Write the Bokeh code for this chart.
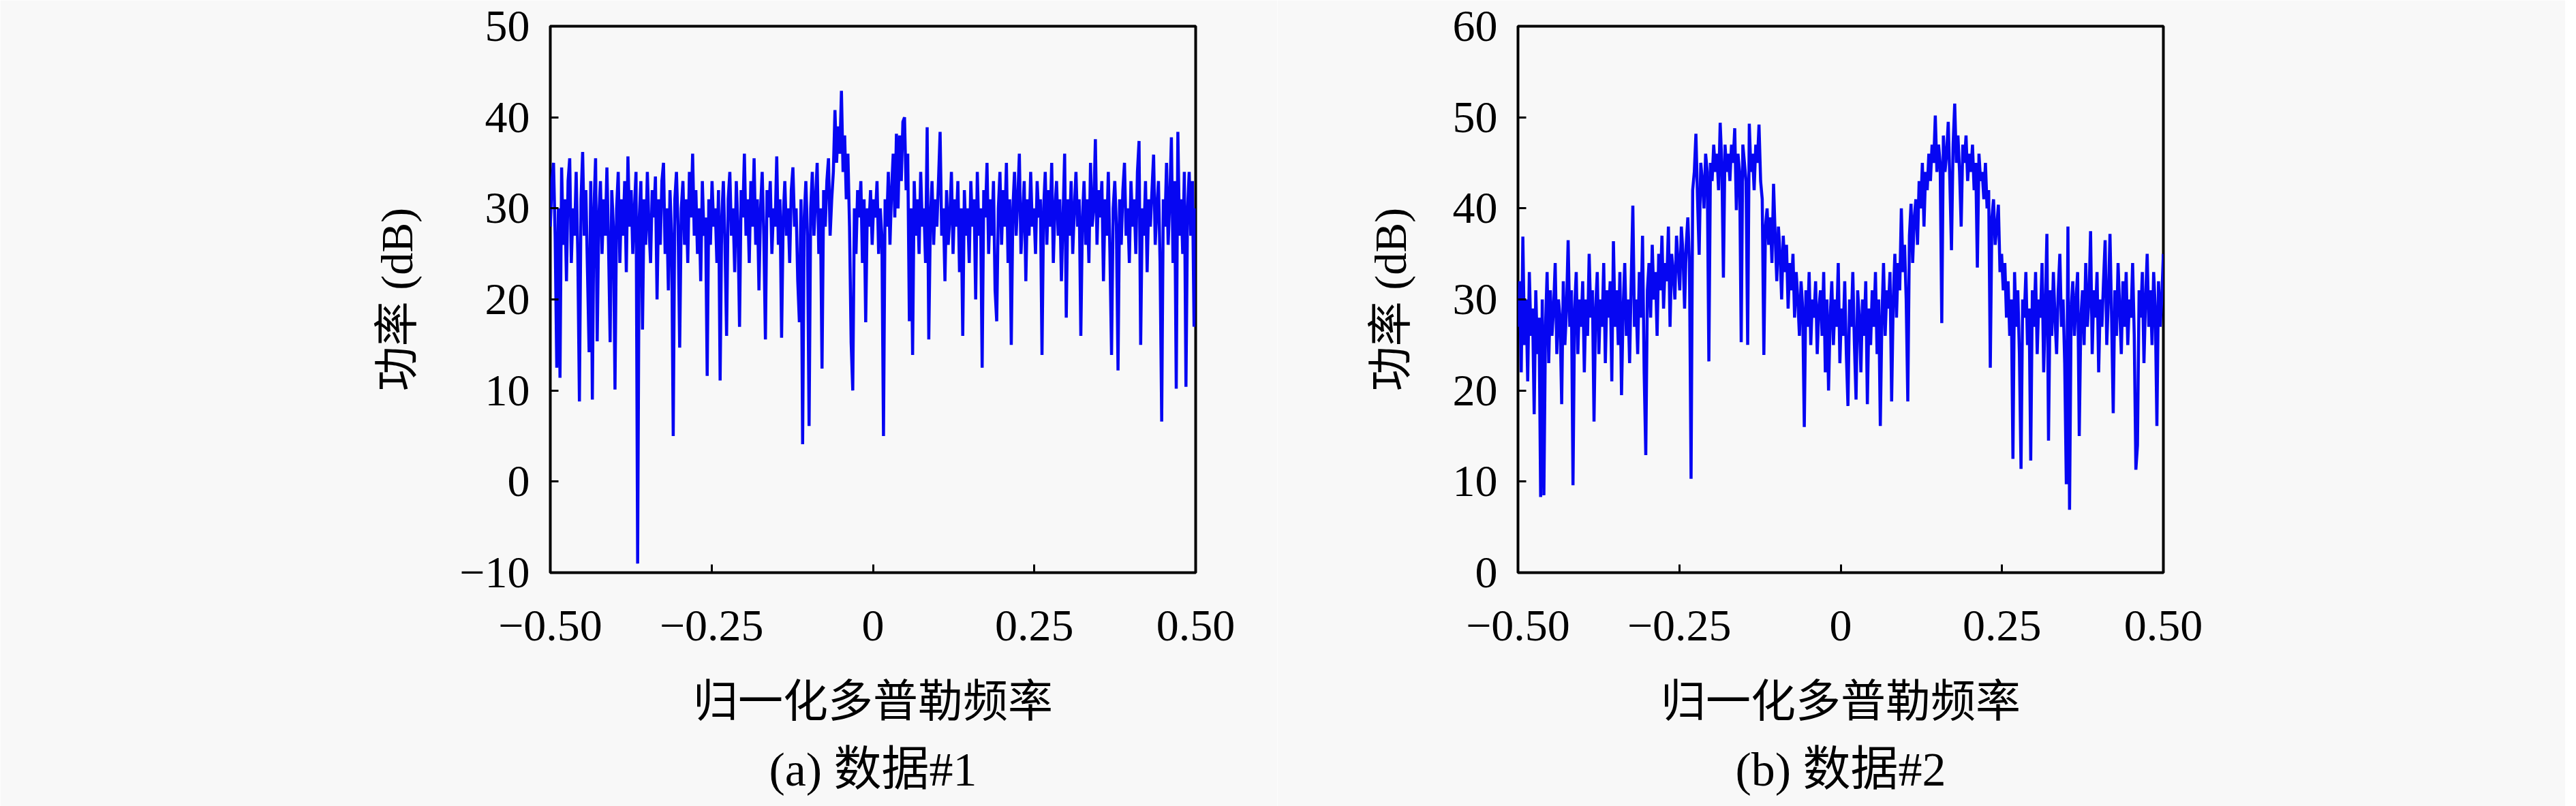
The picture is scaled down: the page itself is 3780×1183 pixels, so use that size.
import numpy as np
from bokeh.plotting import figure
from bokeh.layouts import row
from bokeh.models import Range1d, FixedTicker, Title, ColumnDataSource
from bokeh.embed import file_html
from bokeh.resources import INLINE

# ---------------- data ----------------
N_BINS = 400
freq = np.linspace(-0.5, 0.5, N_BINS)  # normalised Doppler frequency bins

power_1 = [
    28, 33, 35, 27, 12.5, 30, 11.4, 34.5, 26, 31, 22, 33, 35.5, 24, 30, 27, 34, 25, 8.8, 31,
    36.2, 27, 32, 23, 14.2, 33, 9, 30, 35.5, 15.4, 29, 33, 25, 31, 27, 34.5, 26, 15.3, 32, 28,
    10.1, 30, 34, 24, 31, 27, 33, 23, 35.7, 28, 32, 25, 30, 34, -9, 29, 33, 16.7, 31, 26,
    34, 28, 24, 32, 29, 33.5, 20, 31, 26, 33, 35, 25, 30, 21, 32, 27, 5, 31, 34, 28,
    14.7, 30, 33, 26, 31, 24, 34, 29, 36, 27, 32, 25, 30, 22, 33, 27, 29, 11.6, 31, 26,
    33, 28, 30, 24, 32, 11.1, 29, 33, 26, 16, 31, 34, 27, 30, 23, 33, 28, 17, 32, 29,
    36, 27, 31, 24, 33, 28, 35.5, 26, 31, 21, 30, 34, 27, 15.6, 32, 29, 33, 25, 30, 28,
    35.7, 26, 31, 15.8, 29, 33, 27, 30, 24, 32, 34.5, 28, 30, 22, 17.5, 31, 4.1, 29, 33, 27,
    6.1, 30, 34, 27, 31, 35, 25, 30, 12.4, 32, 28, 33, 35.5, 27, 31, 34, 40.8, 35, 39, 36,
    42.9, 34, 38, 31, 36, 28, 15.3, 10, 30, 25, 32, 29, 33, 24, 31, 17.5, 30, 28, 32, 26,
    31, 29, 33, 25, 30, 27, 5, 31, 28, 34, 26, 32, 36, 29, 38.2, 30, 38, 33, 39.5, 40,
    32, 36, 17.6, 30, 13.9, 33, 27, 31, 25, 34, 28, 30, 24, 38.9, 15.6, 29, 33, 26, 31, 28,
    33, 38.4, 27, 30, 22, 32, 26, 29, 34, 25, 31, 28, 33, 23, 30, 16, 32, 27, 30, 24,
    33, 28, 31, 20, 34, 27, 30, 12.5, 32, 29, 35, 25, 31, 27, 33, 21, 17.6, 30, 34, 26,
    32, 28, 35, 24, 31, 15, 30, 34, 27, 31, 36, 25, 29, 33, 22, 31, 27, 34, 28, 30,
    25, 33, 29, 31, 13.9, 30, 34, 26, 32, 28, 35, 24, 30, 33, 27, 31, 22, 29, 36, 18,
    31, 27, 33, 25, 30, 34, 28, 31, 16, 29, 33, 26, 31, 24, 35, 28, 30, 37.6, 26, 32,
    29, 33, 22, 31, 27, 34, 25, 13.9, 30, 33, 28, 12.2, 31, 26, 32, 35, 27, 30, 24, 33,
    28, 31, 25, 34, 37.4, 15, 30, 27, 33, 23, 31, 28, 32, 35.9, 26, 30, 33, 24, 6.6, 31,
    28, 35, 26, 31, 37.8, 24, 33, 10.2, 38.4, 27, 31, 25, 34, 10.4, 30, 34, 27, 33, 17, 30,
]

power_2 = [
    27, 32, 22, 36.9, 25, 30, 21, 33, 26, 29, 17.4, 31, 24, 28, 8.3, 30, 8.5, 27, 33, 23,
    31, 26, 29, 34, 24, 30, 28, 18.5, 32, 25, 29, 36.5, 27, 31, 9.6, 29, 33, 24, 30, 27,
    32, 22, 30, 26, 35, 28, 31, 16.6, 29, 33, 24, 30, 27, 34, 23, 31, 28, 32, 21, 36.4,
    27, 31, 25, 33, 19.5, 29, 34, 26, 30, 23, 32, 40.3, 27, 30, 24, 33, 28, 37, 22, 12.9,
    31, 34, 28, 36, 30, 33, 26, 35, 31, 37, 29, 34, 32, 38, 27, 35, 33, 30, 37, 34,
    31, 38, 35, 29, 36, 39, 34, 10.3, 42, 44, 48.2, 41, 34.9, 45, 43, 40, 46, 44, 23.2, 45,
    43, 47, 44, 46, 42, 49.4, 45, 32.4, 47, 44, 46, 43, 47, 45, 48.8, 39.8, 46, 44, 25.3, 47,
    45, 43, 25, 49.3, 44, 46, 42, 47, 45, 49.2, 43, 41, 23.9, 38, 40, 36, 39, 34, 42.7, 37,
    32, 38, 35, 30, 37, 33, 36, 29, 34, 31, 35, 28, 33, 30, 26, 32, 29, 16, 31, 27,
    33, 25, 30, 28, 32, 24, 29, 31, 26, 33, 22, 30, 20, 28, 32, 25, 30, 27, 34, 23,
    29, 26, 32, 24, 18.3, 30, 27, 33, 25, 19, 31, 28, 22, 30, 26, 32, 18.5, 29, 25, 31,
    27, 33, 24, 30, 16.1, 28, 34, 26, 31, 29, 33, 18.8, 30, 35, 28, 34, 31, 40, 33, 36,
    30, 18.8, 37, 40.5, 34, 39, 41, 36, 43, 40, 45, 38, 44, 42, 46, 43, 47, 45, 50.2, 44,
    47, 45, 27.4, 48, 44, 46, 49.5, 43, 35.4, 47, 51.5, 45, 48, 44, 38, 47, 45, 48, 43, 46,
    44, 47, 42, 45, 33.5, 46, 43, 44, 41, 45, 40, 42, 22.5, 39, 41, 36, 38, 40.4, 33, 35,
    31, 34, 28, 32, 26, 30, 12.5, 33, 27, 31, 24, 11.4, 30, 28, 33, 25, 29, 12.3, 31, 27,
    33, 24, 30, 28, 34, 22, 29, 37.2, 14.5, 31, 26, 33, 28, 24, 31, 35, 27, 30, 23, 9.7,
    38, 6.9, 29, 32, 26, 30, 33, 15, 28, 31, 25, 34, 27, 30, 37.5, 24, 31, 28, 33, 22,
    30, 27, 32, 36.5, 25, 30, 37.2, 28, 17.5, 31, 26, 34, 29, 24, 32, 27, 33, 25, 30, 28,
    34, 26, 11.3, 14, 31, 28, 33, 23, 30, 35, 27, 31, 25, 33, 29, 16.1, 32, 27, 30, 35,
]

x_ticks = [-0.5, -0.25, 0, 0.25, 0.5]
x_tick_labels = ["\u22120.50", "\u22120.25", "0", "0.25", "0.50"]
y1_ticks = [-10, 0, 10, 20, 30, 40, 50]
y1_tick_labels = ["\u221210", "0", "10", "20", "30", "40", "50"]
y2_ticks = [0, 10, 20, 30, 40, 50, 60]
y2_tick_labels = ["0", "10", "20", "30", "40", "50", "60"]

x_label = "归一化多普勒频率"
y_label = "功率 (dB)"
captions = ["(a) 数据#1", "(b) 数据#2"]

# ---------------- styling ----------------
BG = "#f8f8f8"
SERIF = "Liberation Serif, Noto Sans CJK SC"
TICK_SIZE = "66px"
LABEL_SIZE = "66px"
CAPTION_SIZE = "70px"


def make_panel(values, y_lo, y_hi, y_ticks, y_labels, caption, border_left, border_right):
    p = figure(
        frame_width=947, frame_height=802,
        min_border_left=border_left, min_border_right=border_right,
        min_border_top=38, min_border_bottom=0,
        x_range=Range1d(-0.5, 0.5), y_range=Range1d(y_lo, y_hi),
        output_backend="svg", toolbar_location=None,
        background_fill_color=BG, border_fill_color=BG,
    )
    src = ColumnDataSource(dict(f=freq, pw=values))
    p.line("f", "pw", source=src, line_color="#0606f2", line_width=4.5)

    p.grid.visible = False
    p.outline_line_color = "black"
    p.outline_line_width = 4

    p.xaxis.ticker = FixedTicker(ticks=x_ticks)
    p.xaxis.major_label_overrides = {t: s for t, s in zip(x_ticks, x_tick_labels)}
    p.yaxis.ticker = FixedTicker(ticks=y_ticks)
    p.yaxis.major_label_overrides = {t: s for t, s in zip(y_ticks, y_labels)}

    for ax in (p.xaxis[0], p.yaxis[0]):
        ax.axis_line_color = None
        ax.major_tick_in = 12
        ax.major_tick_out = 0
        ax.major_tick_line_width = 3
        ax.major_tick_line_color = "black"
        ax.minor_tick_line_color = None
        ax.major_label_text_font = SERIF
        ax.major_label_text_font_size = TICK_SIZE
        ax.major_label_text_color = "black"
        ax.axis_label_text_font = SERIF
        ax.axis_label_text_font_size = LABEL_SIZE
        ax.axis_label_text_font_style = "normal"
        ax.axis_label_text_color = "black"

    p.xaxis.axis_label = x_label
    p.xaxis.major_label_standoff = 56
    p.xaxis.axis_label_standoff = 50
    p.yaxis.axis_label = y_label
    p.yaxis.major_label_standoff = 30
    p.yaxis.axis_label_standoff = 52

    p.add_layout(Title(text=caption, align="center", text_font=SERIF,
                       text_font_size=CAPTION_SIZE, text_font_style="normal",
                       text_color="black", standoff=40), "below")
    return p


p1 = make_panel(power_1, -10, 50, y1_ticks, y1_tick_labels, captions[0], 807, 120)
p2 = make_panel(power_2, 0, 60, y2_ticks, y2_tick_labels, captions[1], 353, 590)

layout = row(p1, p2)
open("out.html", "w").write(file_html(layout, INLINE))
